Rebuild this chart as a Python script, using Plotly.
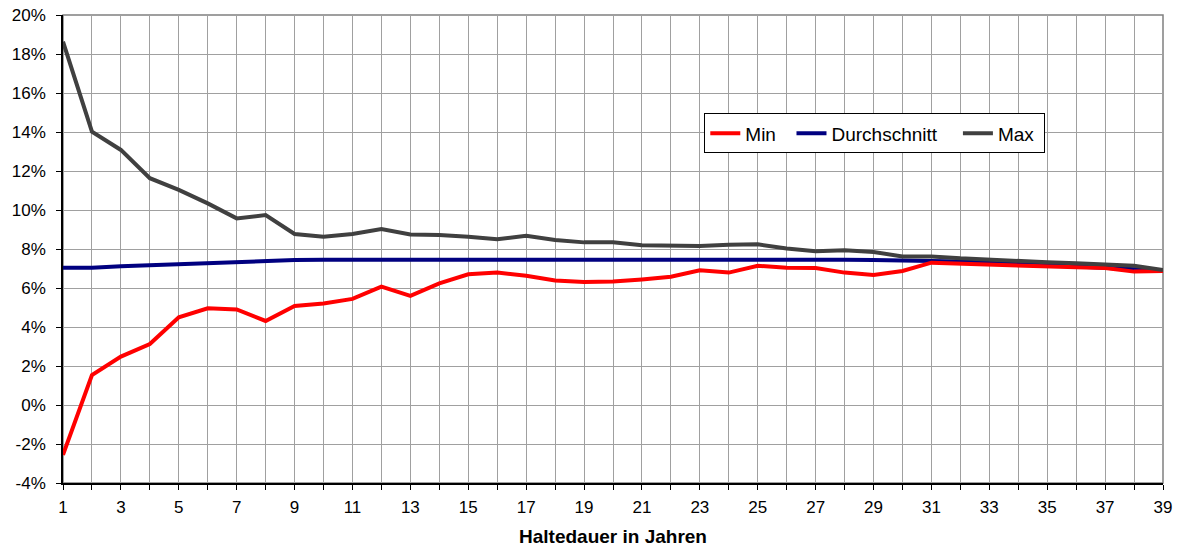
import plotly.graph_objects as go

# Haltedauer in Jahren
jahre = list(range(1, 40))

# Renditen in %
rendite_min = [
    -2.56, 1.54, 2.48, 3.13, 4.50, 4.96, 4.90, 4.31, 5.08, 5.21,
    5.44, 6.07, 5.60, 6.24, 6.70, 6.79, 6.63, 6.38, 6.31, 6.33,
    6.44, 6.58, 6.91, 6.79, 7.14, 7.04, 7.03, 6.79, 6.67, 6.87,
    7.30, 7.25, 7.20, 7.13, 7.06, 7.06, 7.03, 6.84, 6.87,
]
rendite_mittel = [
    7.04, 7.04, 7.12, 7.18, 7.23, 7.27, 7.31, 7.37, 7.43, 7.45,
    7.45, 7.45, 7.46, 7.48, 7.50, 7.49, 7.48, 7.48, 7.47, 7.47,
    7.47, 7.48, 7.49, 7.50, 7.50, 7.49, 7.46, 7.45, 7.44, 7.43,
    7.42, 7.36, 7.30, 7.24, 7.18, 7.13, 7.07, 7.00, 6.90,
]
rendite_max = [
    18.63, 14.02, 13.08, 11.63, 11.03, 10.34, 9.57, 9.74, 8.77, 8.63,
    8.77, 9.03, 8.75, 8.72, 8.63, 8.50, 8.68, 8.46, 8.34, 8.34,
    8.19, 8.17, 8.15, 8.22, 8.24, 8.03, 7.88, 7.93, 7.85, 7.62,
    7.62, 7.52, 7.44, 7.39, 7.32, 7.27, 7.22, 7.14, 6.92,
]

y_ticks = list(range(-4, 21, 2))
y_labels = [f"{v}%" for v in y_ticks]

nb = '\u00a0'  # abstand in der legende

fig = go.Figure()

fig.add_trace(go.Scatter(x=jahre, y=rendite_mittel, mode='lines', name='Durchschnitt' + nb * 3,
                         legendrank=2, line=dict(color='#000080', width=4)))
fig.add_trace(go.Scatter(x=jahre, y=rendite_min, mode='lines', name='Min' + nb * 2,
                         legendrank=1, line=dict(color='#ff0000', width=4)))
fig.add_trace(go.Scatter(x=jahre, y=rendite_max, mode='lines', name='Max' + nb,
                         legendrank=3, line=dict(color='#404040', width=4)))

# rahmen oben/rechts grau
fig.add_shape(type='rect', xref='paper', yref='paper', x0=0, y0=0, x1=1, y1=1,
              line=dict(color='#808080', width=1.5), layer='between')

fig.update_layout(
    width=1181, height=548,
    margin=dict(l=63, r=18, t=15, b=65),
    paper_bgcolor='white', plot_bgcolor='white',
    font=dict(family='Liberation Sans, Arial, sans-serif', size=17, color='black'),
    showlegend=True,
    legend=dict(orientation='h', x=0.583, y=0.79, xanchor='left', yanchor='top',
                bgcolor='white', bordercolor='black', borderwidth=1,
                font=dict(size=19), itemwidth=30, traceorder='normal'),
)

fig.update_xaxes(
    range=[1, 39], tick0=1, dtick=2, automargin=False,
    showgrid=True, gridcolor='#a0a0a0', gridwidth=1,
    minor=dict(dtick=1, tick0=1, showgrid=True, gridcolor='#a0a0a0', gridwidth=1,
               ticks='outside', ticklen=5, tickcolor='black'),
    ticks='outside', ticklen=5, tickcolor='black', ticklabelstandoff=3,
    showline=True, linecolor='black', linewidth=1.5,
    zeroline=False,
    title=dict(text='<b>Haltedauer in Jahren</b>', font=dict(size=19), standoff=14),
)
fig.update_yaxes(
    range=[-4, 20], tickvals=y_ticks, ticktext=y_labels, automargin=False,
    showgrid=True, gridcolor='#a0a0a0', gridwidth=1,
    ticks='outside', ticklen=5, tickcolor='black', ticklabelstandoff=7,
    showline=True, linecolor='black', linewidth=1.5,
    zeroline=False,
)

# body-rand der seite entfernen, damit die grafik bei 0,0 beginnt
fig.write_html("out.html", config={'displayModeBar': False},
               post_script="document.body.style.margin='0px';")
